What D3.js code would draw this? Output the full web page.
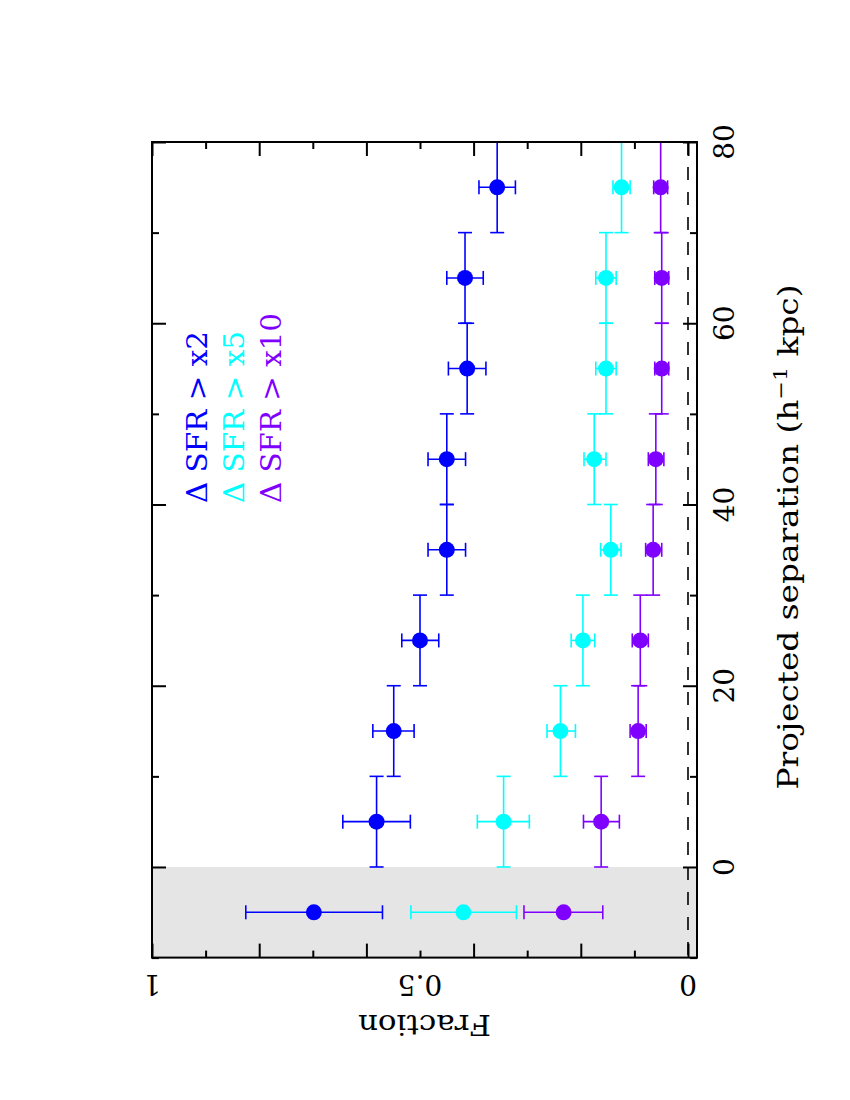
<!DOCTYPE html>
<html>
<head>
<meta charset="utf-8">
<script src="https://cdn.jsdelivr.net/npm/d3@7"></script>
<style>
  body { margin: 0; background: #fff; }
  text { font-family: "DejaVu Serif", serif; }
</style>
</head>
<body>
<div id="chart"></div>
<script>
////////
// Data: projected separation bins (h^-1 kpc) and fractions for three
// Delta SFR thresholds. The first entry (-5) is the shaded reference bin.
let separation = [-5, 5, 15, 25, 35, 45, 55, 65, 75];
let binLow     = [null, 0, 10, 20, 30, 40, 50, 60, 70];
let binHigh    = [null, 10, 20, 30, 40, 50, 60, 70, 80];

let fracX2   = [0.698, 0.581, 0.549, 0.500, 0.450, 0.450, 0.412, 0.416, 0.356];
let fracX2Lo = [0.570, 0.518, 0.511, 0.465, 0.415, 0.415, 0.377, 0.382, 0.322];
let fracX2Hi = [0.825, 0.644, 0.588, 0.534, 0.485, 0.485, 0.447, 0.450, 0.390];

let fracX5   = [0.419, 0.344, 0.238, 0.196, 0.144, 0.175, 0.153, 0.153, 0.124];
let fracX5Lo = [0.320, 0.296, 0.210, 0.174, 0.125, 0.153, 0.134, 0.134, 0.108];
let fracX5Hi = [0.517, 0.393, 0.263, 0.218, 0.163, 0.194, 0.172, 0.172, 0.140];

let fracX10   = [0.232, 0.162, 0.093, 0.089, 0.065, 0.060, 0.049, 0.049, 0.051];
let fracX10Lo = [0.159, 0.128, 0.078, 0.074, 0.049, 0.045, 0.036, 0.036, 0.038];
let fracX10Hi = [0.306, 0.195, 0.108, 0.104, 0.079, 0.074, 0.062, 0.062, 0.064];

let seriesNames  = ["\u0394 SFR > x2", "\u0394 SFR > x5", "\u0394 SFR > x10"];
let seriesColors = ["#0000ff", "#00ffff", "#8000ff"];

let fracLabels = [0, 0.5, 1];
let sepLabels  = [0, 20, 40, 60, 80];

let series = [
  {name: seriesNames[0], color: seriesColors[0], f: fracX2,  lo: fracX2Lo,  hi: fracX2Hi},
  {name: seriesNames[1], color: seriesColors[1], f: fracX5,  lo: fracX5Lo,  hi: fracX5Hi},
  {name: seriesNames[2], color: seriesColors[2], f: fracX10, lo: fracX10Lo, hi: fracX10Hi}
];

////////
// Canvas (the page is drawn rotated: fraction runs right-to-left,
// separation runs bottom-to-top)
let svg_width = 850;
let svg_height = 1100;

let frameL = 152, frameR = 697, frameT = 142, frameB = 957.6;

let svg = d3.select("#chart")
  .append("svg")
  .attr("width", svg_width)
  .attr("height", svg_height);

let fScale = d3.scaleLinear()
  .domain([1, -0.0168])
  .range([frameL, frameR]);

let sScale = d3.scaleLinear()
  .domain([-10, 80])
  .range([frameB, frameT]);

////////
// Shaded region and zero line
svg.append("rect")
  .attr("x", frameL)
  .attr("y", sScale(0))
  .attr("width", frameR - frameL)
  .attr("height", sScale(-10) - sScale(0))
  .attr("fill", "#e5e5e5");

svg.append("line")
  .attr("x1", fScale(0)).attr("x2", fScale(0))
  .attr("y1", frameT).attr("y2", frameB)
  .attr("stroke", "#000")
  .attr("stroke-width", 1.6)
  .attr("stroke-dasharray", "13,12");

////////
// Error bars and points
let cap = 7;

series.forEach(function(s) {
  let g = svg.append("g").attr("stroke", s.color).attr("fill", s.color);

  separation.forEach(function(sep, i) {
    let cy = sScale(sep);
    // fraction error bar
    g.append("line")
      .attr("x1", fScale(s.lo[i])).attr("x2", fScale(s.hi[i]))
      .attr("y1", cy).attr("y2", cy)
      .attr("stroke-width", 1.6);
    [s.lo[i], s.hi[i]].forEach(function(v) {
      g.append("line")
        .attr("x1", fScale(v)).attr("x2", fScale(v))
        .attr("y1", cy - cap).attr("y2", cy + cap)
        .attr("stroke-width", 1.6);
    });
    // separation bin bar
    if (binLow[i] !== null) {
      let cx = fScale(s.f[i]);
      g.append("line")
        .attr("x1", cx).attr("x2", cx)
        .attr("y1", sScale(binLow[i])).attr("y2", sScale(binHigh[i]))
        .attr("stroke-width", 1.6);
      [binLow[i], binHigh[i]].forEach(function(v) {
        g.append("line")
          .attr("x1", cx - cap).attr("x2", cx + cap)
          .attr("y1", sScale(v)).attr("y2", sScale(v))
          .attr("stroke-width", 1.6);
      });
    }
    g.append("circle")
      .attr("cx", fScale(s.f[i]))
      .attr("cy", cy)
      .attr("r", 8)
      .attr("stroke", "none");
  });
});

////////
// Frame with inward ticks on all sides
let fMajor = d3.range(0, 1.01, 0.2);
let fMinor = d3.range(0.1, 1, 0.2);
let sMajor = d3.range(0, 81, 20);
let sMinor = d3.range(-10, 80, 20);

function frameAxis(axisFn, scale, vals, len, tx, ty) {
  let ax = axisFn(scale).tickValues(vals).tickSize(-len).tickSizeOuter(0).tickFormat("");
  let g = svg.append("g")
    .attr("transform", `translate(${tx},${ty})`)
    .call(ax);
  g.select(".domain").remove();
  g.selectAll(".tick line").attr("stroke", "#000").attr("stroke-width", 2);
}

frameAxis(d3.axisTop, fScale, fMajor, 14, 0, frameT);
frameAxis(d3.axisTop, fScale, fMinor, 7, 0, frameT);
frameAxis(d3.axisBottom, fScale, fMajor, 14, 0, frameB);
frameAxis(d3.axisBottom, fScale, fMinor, 7, 0, frameB);
frameAxis(d3.axisLeft, sScale, sMajor, 14, frameL, 0);
frameAxis(d3.axisLeft, sScale, sMinor, 7, frameL, 0);
frameAxis(d3.axisRight, sScale, sMajor, 14, frameR, 0);
frameAxis(d3.axisRight, sScale, sMinor, 7, frameR, 0);

svg.append("rect")
  .attr("x", frameL).attr("y", frameT)
  .attr("width", frameR - frameL).attr("height", frameB - frameT)
  .attr("fill", "none")
  .attr("stroke", "#000")
  .attr("stroke-width", 2);

////////
// Tick labels and axis titles
svg.selectAll(".flabel")
  .data(fracLabels)
  .enter()
  .append("text")
  .attr("class", "flabel")
  .attr("transform", d => `translate(${fScale(d)},975) rotate(180)`)
  .attr("text-anchor", "middle")
  .attr("font-size", 28)
  .text(d => d);

svg.selectAll(".slabel")
  .data(sepLabels)
  .enter()
  .append("text")
  .attr("class", "slabel")
  .attr("transform", d => `translate(734,${sScale(d)}) rotate(-90)`)
  .attr("text-anchor", "middle")
  .attr("font-size", 28)
  .text(d => d);

svg.append("text")
  .attr("transform", `translate(${(frameL + frameR) / 2},1015) rotate(180)`)
  .attr("text-anchor", "middle")
  .attr("font-size", 28)
  .attr("textLength", 133)
  .attr("lengthAdjust", "spacingAndGlyphs")
  .text("Fraction");

let title = svg.append("text")
  .attr("transform", `translate(798,537) rotate(-90)`)
  .attr("text-anchor", "middle")
  .attr("font-size", 28)
  .attr("textLength", 505)
  .attr("lengthAdjust", "spacingAndGlyphs");
title.append("tspan").text("Projected separation (h");
title.append("tspan").attr("dy", -11).attr("font-size", 19).text("\u22121");
title.append("tspan").attr("dy", 11).text(" kpc)");

////////
// Legend
let legendX = [207, 244, 281];
let legendLen = [172, 172, 190];

series.forEach(function(s, i) {
  svg.append("text")
    .attr("transform", `translate(${legendX[i]},503) rotate(-90)`)
    .attr("font-size", 28)
    .attr("fill", s.color)
    .attr("textLength", legendLen[i])
    .attr("lengthAdjust", "spacingAndGlyphs")
    .text(s.name);
});
</script>
</body>
</html>
